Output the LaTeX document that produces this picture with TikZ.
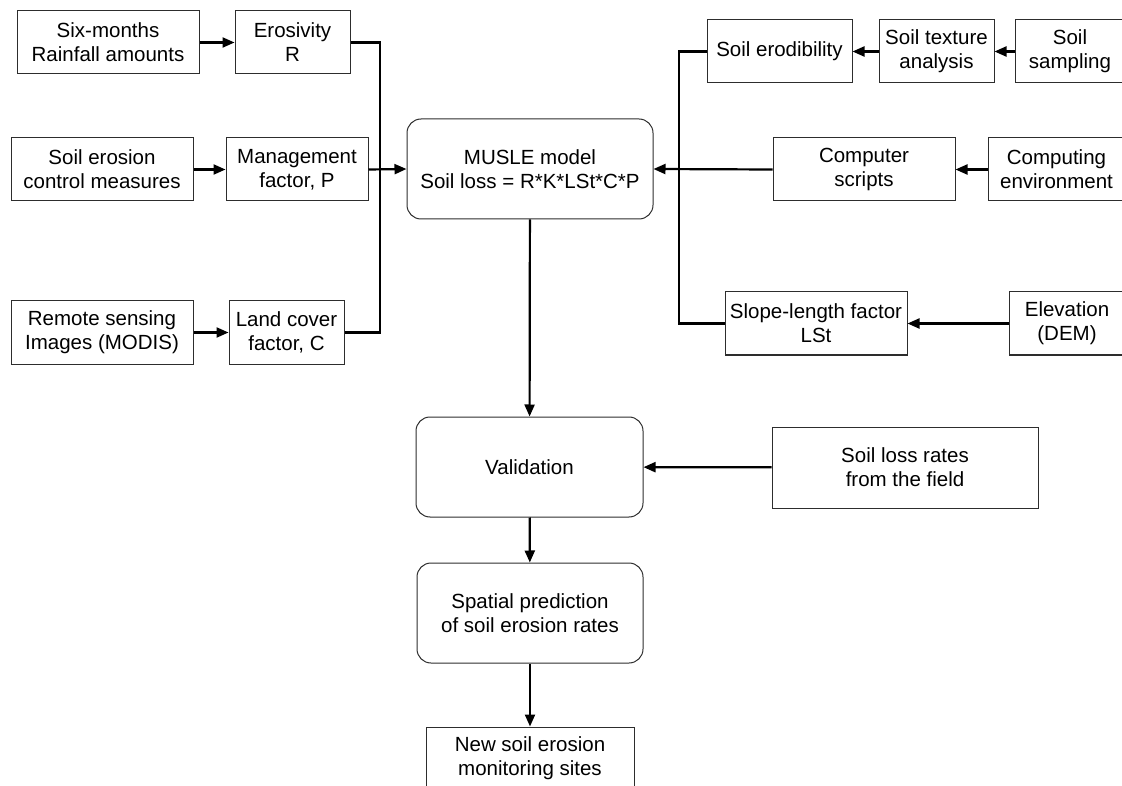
\documentclass[tikz,border=0pt]{standalone}
\usepackage{fontspec}
\setmainfont{Liberation Sans}
\usetikzlibrary{arrows.meta}
\definecolor{borde}{RGB}{45,45,45}
\tikzset{
  caja/.style={draw=borde, line width=1pt, align=center, inner sep=0pt, minimum height=63pt, font=\fontsize{20.5}{24}\selectfont},
  ronda/.style={caja, rounded corners=14pt, minimum height=100pt},
  fl/.style={-{Triangle[length=12pt,width=10pt]}, line width=2.2pt},
  ln/.style={line width=2.2pt},
}

\begin{document}
\begin{tikzpicture}[x=1pt, y=-1pt]
  \useasboundingbox (0,0) rectangle (1122,786);

  \node[caja, minimum width=182pt] (lluvia) at (108,42.5) {Six-months\\Rainfall amounts};
  \node[caja, minimum width=115pt] (erosiv) at (292.5,42.5) {Erosivity\\R};
  \node[caja, minimum width=182pt] (control) at (102,169.5) {Soil erosion\\control measures};
  \node[caja, minimum width=142pt] (manejo) at (297,169.5) {Management\\factor, P};
  \node[caja, minimum width=182pt] (remoto) at (102,332.5) {Remote sensing\\Images (MODIS)};
  \node[caja, minimum width=115pt] (cober) at (286.5,332.5) {Land cover\\factor, C};

  \node[ronda, minimum width=246pt] (musle) at (530,169) {MUSLE model\\Soil loss = R*K*LSt*C*P};

  \node[caja, minimum width=145pt] (erodib) at (779.5,51.5) {Soil erodibility};
  \node[caja, minimum width=115pt] (textura) at (936.5,51.5) {Soil texture\\analysis};
  \node[caja, minimum width=110pt] (muestreo) at (1070,51.5) {Soil\\sampling};
  \node[caja, minimum width=182pt] (scripts) at (864,169.5) {Computer\\scripts};
  \node[caja, minimum width=137pt] (entorno) at (1056.5,169.5) {Computing\\environment};
  \node[caja, minimum width=182pt] (pend) at (816,323.5) {Slope-length factor\\LSt};
  \node[caja, minimum width=116pt] (elev) at (1067,323.5) {Elevation\\(DEM)};

  \node[ronda, minimum width=227pt] (valid) at (529.5,467) {Validation};
  \node[caja, minimum width=266pt, minimum height=81pt] (campo) at (905,467.5) {Soil loss rates\\from the field};
  \node[ronda, minimum width=226pt] (pred) at (530,613) {Spatial prediction\\of soil erosion rates};
  \node[caja, minimum width=208pt] (sitios) at (530,758.5) {New soil erosion\\monitoring sites};

  \coordinate (busi) at (380,169.5);
  \coordinate (busd) at (679,169.5);

  \draw[fl] (lluvia) -- (erosiv);
  \draw[fl] (control) -- (manejo);
  \draw[fl] (remoto) -- (cober);
  \draw[ln] (erosiv.east) -| (busi);
  \draw[ln] (cober.east) -| (busi);
  \draw[fl] (manejo.east) -- (musle.west);

  \draw[fl] (muestreo) -- (textura);
  \draw[fl] (textura) -- (erodib);
  \draw[fl] (entorno) -- (scripts);
  \draw[fl] (elev) -- (pend);
  \draw[ln] (erodib.west) -| (busd);
  \draw[ln] (pend.west) -| (busd);
  \draw[fl] (scripts.west) -- (musle.east);

  \draw[fl] (musle) -- (valid);
  \draw[fl] (campo) -- (valid);
  \draw[fl] (valid) -- (pred);
  \draw[fl] (pred) -- (sitios);
\end{tikzpicture}
\end{document}
